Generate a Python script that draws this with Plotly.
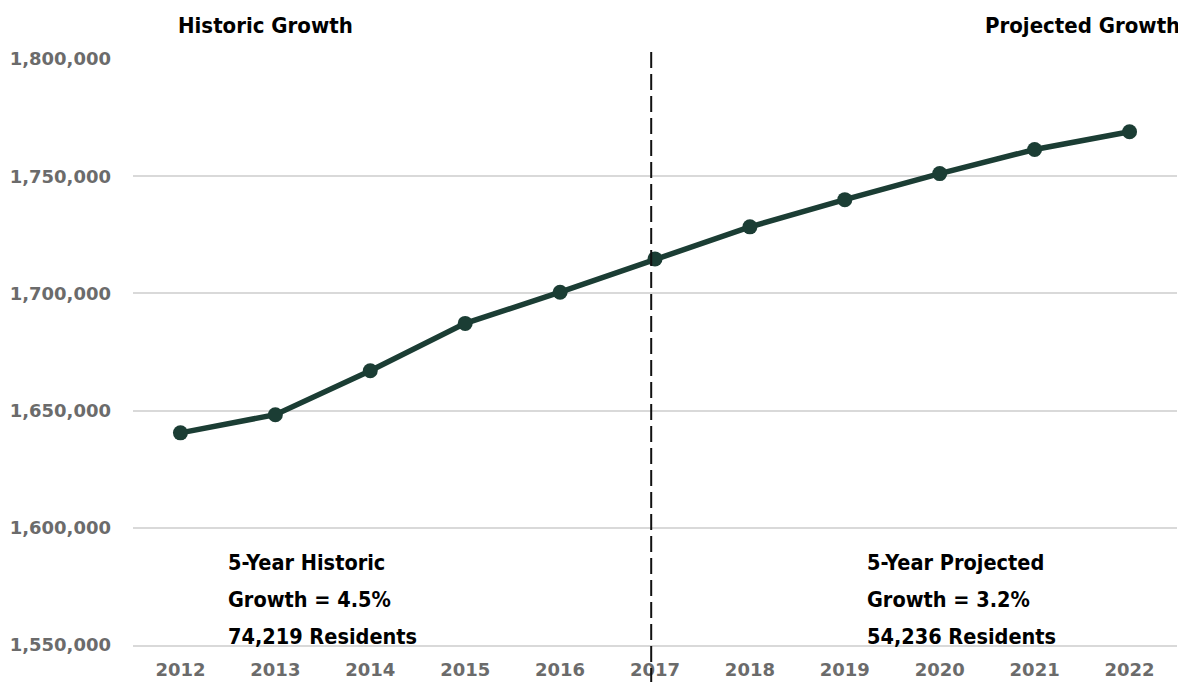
import plotly.graph_objects as go

years = ["2012", "2013", "2014", "2015", "2016", "2017", "2018", "2019", "2020", "2021", "2022"]
population = [1640500, 1648250, 1667000, 1687200, 1700500, 1714719, 1728400, 1740000, 1751100, 1761400, 1768955]
y_ticks = [1550000, 1600000, 1650000, 1700000, 1750000, 1800000]
y_tick_labels = ["1,550,000", "1,600,000", "1,650,000", "1,700,000", "1,750,000", "1,800,000"]

line_color = "#1b3d34"
title_font = dict(family="Liberation Sans Narrow, DejaVu Sans Condensed, sans-serif", size=22, color="#000000")
note_font = dict(family="Liberation Sans Narrow, DejaVu Sans Condensed, sans-serif", size=21.5, color="#000000")
tick_font = dict(family="DejaVu Sans, sans-serif", size=18, color="#6b6b6b", weight="bold")

# page body has an 8px margin; size the figure to fill the remaining window
W, H = 1178, 674

fig = go.Figure()
fig.add_trace(go.Scatter(
    x=years, y=population, mode="lines+markers",
    line=dict(color=line_color, width=5.5),
    marker=dict(color=line_color, size=15),
    showlegend=False, hoverinfo="x+y",
))

fig.update_layout(
    width=W, height=H,
    margin=dict(l=125, r=9, t=51, b=37),
    paper_bgcolor="white", plot_bgcolor="white",
    xaxis=dict(type="category", range=[-0.5, len(years) - 0.5], showgrid=False, zeroline=False,
               showline=True, linecolor="#d9d9d9", linewidth=2,
               tickfont=tick_font, ticks="", ticklabelstandoff=7, automargin=False),
    yaxis=dict(range=[1550000, 1800000], tickvals=y_ticks, ticktext=y_tick_labels,
               showgrid=True, gridcolor="#d9d9d9", gridwidth=2, zeroline=False,
               tickfont=tick_font, ticks="", ticklabelstandoff=21, automargin=False),
)

fig.add_shape(type="line", xref="x", yref="paper", x0=4.96, x1=4.96, y0=1.012, y1=-0.07,
              line=dict(color="#111111", width=2, dash="16px,6px"))

def ann(text, x, y, font, xanchor="left"):
    fig.add_annotation(text="<b>" + text + "</b>", xref="paper", yref="paper", x=x, y=y,
                       xanchor=xanchor, yanchor="middle", showarrow=False, font=font)

ann("Historic Growth", 0.127, 1.058, title_font, "center")
ann("Projected Growth", 1.005, 1.058, title_font, "right")
ann("5-Year Historic", 0.089, 0.1416, note_font)
ann("Growth = 4.5%", 0.089, 0.0768, note_font)
ann("74,219 Residents", 0.089, 0.0137, note_font)
ann("5-Year Projected", 0.701, 0.1416, note_font)
ann("Growth = 3.2%", 0.701, 0.0768, note_font)
ann("54,236 Residents", 0.701, 0.0137, note_font)

fig.write_html("out.html")
